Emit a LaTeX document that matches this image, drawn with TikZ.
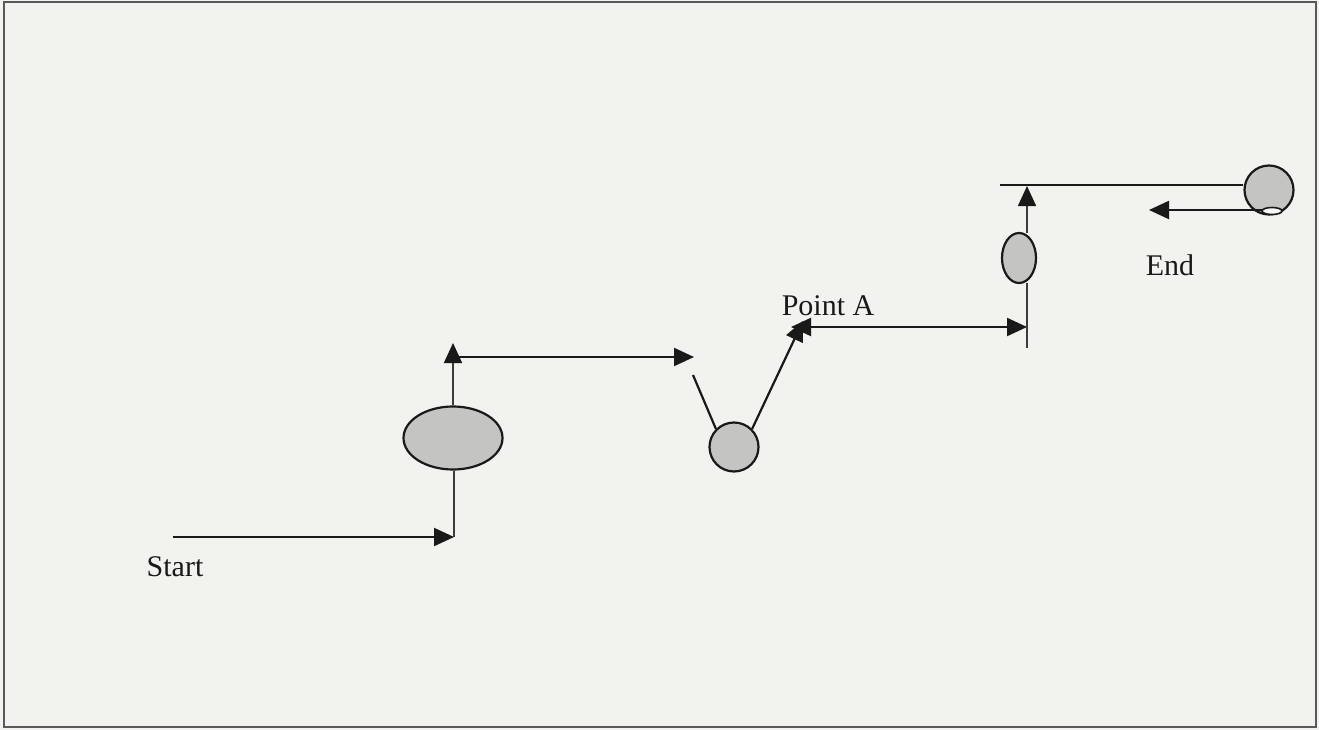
\documentclass[tikz,border=0pt]{standalone}
\usepackage{fontspec}
\setmainfont{Liberation Serif}
\usetikzlibrary{arrows.meta,shapes.geometric}
\definecolor{paper}{RGB}{242,242,238}
\definecolor{blob}{RGB}{196,196,194}
\definecolor{ink}{RGB}{25,25,25}
\tikzset{
  x=1pt, y=-1pt,
  link/.style={draw=ink, line width=2.2pt},
  thin link/.style={draw=ink!85, line width=1.6pt},
  head/.style={-{Triangle[length=20pt,width=18pt,fill=ink,color=ink]}},
  blobnode/.style={ellipse, draw=ink, line width=2.2pt, fill=blob, inner sep=0pt},
  label/.style={font=\fontsize{30}{34}\selectfont, text=ink, inner sep=0pt}
}
\begin{document}
\begin{tikzpicture}
  % page and frame
  \useasboundingbox (0,0) rectangle (1319,730);
  \fill[paper] (0,0) rectangle (1319,730);
  \draw[gray!70!black, line width=2pt] (4,2) rectangle (1316,727);

  % stations along the route
  \node[blobnode, minimum width=99pt, minimum height=63pt] (e1) at (453,438) {};
  \node[blobnode, circle, minimum size=49pt] (c1) at (734,447) {};
  \node[blobnode, minimum width=34pt, minimum height=50pt] (e2) at (1019,258) {};
  \node[blobnode, circle, minimum size=49pt] (c2) at (1269,190) {};

  % route coordinates
  \coordinate (s0) at (173,537);
  \coordinate (s1) at (454,537);
  \coordinate (u1) at (453,343);
  \coordinate (h0) at (456,357);
  \coordinate (h1) at (694,357);
  \coordinate (v0) at (693,375);
  \coordinate (pa) at (803,321);
  \coordinate (pl) at (791,327);
  \coordinate (pr) at (1027,327);
  \coordinate (vb) at (1027,348);
  \coordinate (u2) at (1027,186);
  \coordinate (t0) at (1000,185);
  \coordinate (b0) at (1263,210);
  \coordinate (b1) at (1149,210);

  % leg 1: start to first station
  \draw[link, head] (s0) -- (s1);
  \draw[thin link] (s1) -- (s1 |- e1.south);
  \draw[thin link, head] (e1.north) -- (u1);
  \draw[link, head] (h0) -- (h1);

  % leg 2: dip to the circle and up to Point A
  \draw[link] (v0) -- (c1.north west);
  \draw[link, head] (c1.north east) -- (pa);
  \draw[link, {Triangle[length=20pt,width=18pt]}-{Triangle[length=20pt,width=18pt]}] (pl) -- (pr);

  % leg 3: up past the small station to the end
  \draw[thin link] (vb) -- (1027,283);
  \draw[thin link, head] (1027,233) -- (u2);
  \draw[link] (t0) -- (t0 -| c2.west);
  \draw[link, head] (b0) -- (b1);
  \draw[ink, line width=1.6pt, fill=paper!60!white] (1272,211) ellipse (10pt and 3.5pt);

  % labels
  \node[label] (start) at (175,567) {Start};
  \node[label] (pointa) at (828,306) {Point A};
  \node[label] (end) at (1170,265) {End};
\end{tikzpicture}
\end{document}
